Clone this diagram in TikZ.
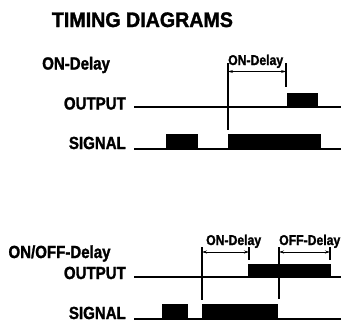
\documentclass[tikz,border=0pt]{standalone}
\usepackage{fontspec}
\newfontfamily\labelfont[FakeStretch=0.86,FakeBold=1.5]{Liberation Sans Bold}
\newfontfamily\titlefont[FakeStretch=0.935,FakeBold=1.5]{Liberation Sans Bold}
\usetikzlibrary{arrows.meta}

\begin{document}
\begin{tikzpicture}[x=1pt,y=-1pt,
    lbl/.style={inner sep=0pt,font=\labelfont\fontsize{17.5}{20}\selectfont},
    dlbl/.style={inner sep=0pt,anchor=base west,font=\labelfont\fontsize{14.2}{16}\selectfont},
    wave/.style={line width=2.2pt},
    edge line/.style={line width=1.3pt},
    delayarrow/.style={line width=0.8pt,{Stealth[length=5pt,width=3pt]}-{Stealth[length=5pt,width=3pt]}}]
    \useasboundingbox (0,0) rectangle (341,322);
    \node[inner sep=0pt,anchor=base west,font=\titlefont\fontsize{21}{24}\selectfont] (title) at (51.7,27) {TIMING DIAGRAMS};

    % ON-Delay
    \node[lbl,anchor=base west] (onname) at (42,69.5) {ON-Delay};
    \node[lbl,anchor=base east] (out1) at (126,109.5) {OUTPUT};
    \node[lbl,anchor=base east] (sig1) at (126,149) {SIGNAL};
    \node[dlbl] (ond1) at (228,65) {ON-Delay};
    \coordinate (a1) at (228,71.5);
    \coordinate (b1) at (286,71.5);
    \draw[wave] (134,107.3) -- (341,107.3);
    \fill (287,93.3) rectangle (318.3,107.3);
    \draw[wave] (134,149) -- (341,149);
    \fill (166,134) rectangle (198,149);
    \fill (228,134) rectangle (320.7,149);
    \draw[edge line] (228,63) -- (228,130);
    \draw[edge line] (286,63) -- (286,87);
    \draw[delayarrow] (a1) -- (b1);

    % ON/OFF-Delay
    \node[lbl,anchor=base west] (onoffname) at (8.3,258) {ON/OFF-Delay};
    \node[lbl,anchor=base east] (out2) at (126,279) {OUTPUT};
    \node[lbl,anchor=base east] (sig2) at (126,319) {SIGNAL};
    \node[dlbl] (ond2) at (206,245) {ON-Delay};
    \node[dlbl] (offd2) at (279,245) {OFF-Delay};
    \coordinate (a2) at (202,252);
    \coordinate (b2) at (249,252);
    \coordinate (c2) at (279,252);
    \coordinate (d2) at (330,252);
    \draw[wave] (134,277.3) -- (341,277.3);
    \fill (248,264) rectangle (331,277.3);
    \draw[wave] (134,319) -- (341,319);
    \fill (161.7,304) rectangle (188.3,319);
    \fill (202,304) rectangle (278.3,319);
    \draw[edge line] (202,247) -- (202,300);
    \draw[edge line] (249,247) -- (249,260);
    \draw[edge line] (279,247) -- (279,299);
    \draw[edge line] (330,247) -- (330,260);
    \draw[delayarrow] (a2) -- (b2);
    \draw[delayarrow] (c2) -- (d2);
\end{tikzpicture}
\end{document}
